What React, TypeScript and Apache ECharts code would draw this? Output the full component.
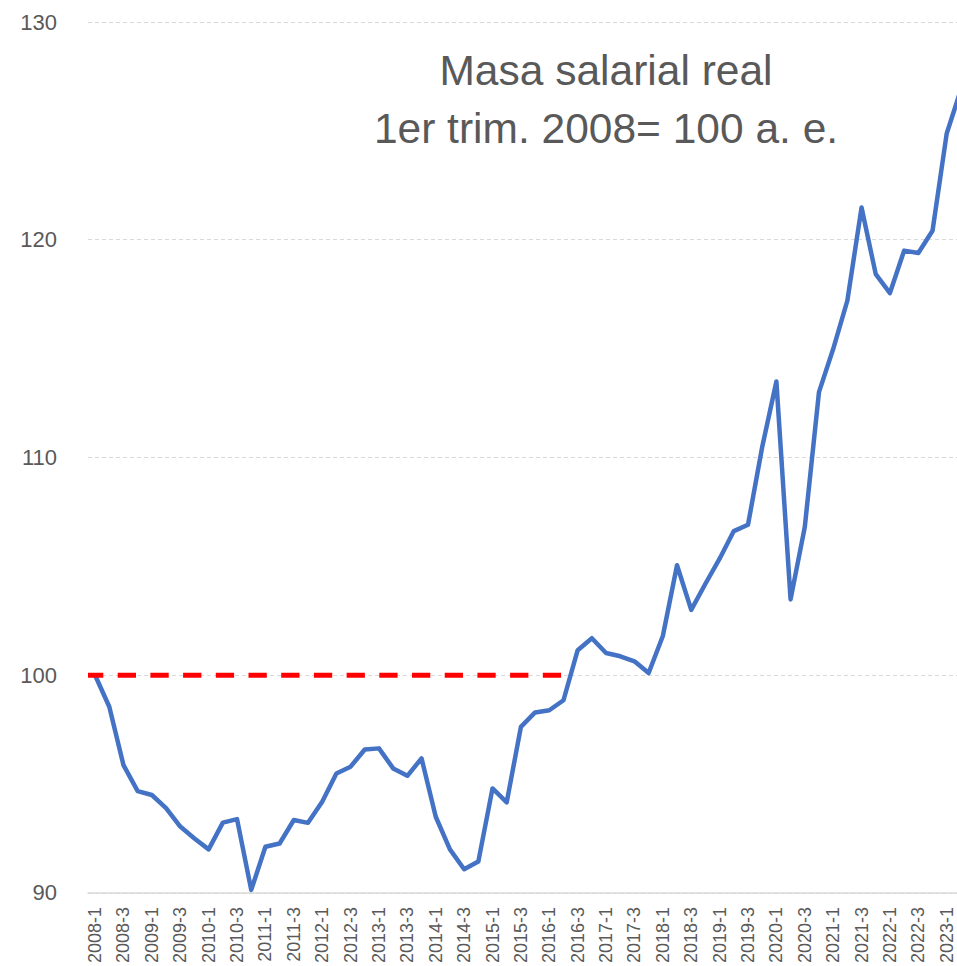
import React, { useEffect, useRef } from "react";
import * as echarts from "echarts";

const years = [2008, 2009, 2010, 2011, 2012, 2013, 2014, 2015, 2016, 2017, 2018, 2019, 2020, 2021, 2022, 2023];
const quartersLastYear = 2;
const categories: string[] = [];
years.forEach((y) => {
  const n = y === 2023 ? quartersLastYear : 4;
  for (let q = 1; q <= n; q++) categories.push(`${y}-${q}`);
});

const masaSalarial = [
  100.0, 98.55, 95.87, 94.68,
  94.5, 93.9, 93.05, 92.5,
  92.0, 93.23, 93.39, 90.14,
  92.12, 92.27, 93.35, 93.22,
  94.19, 95.49, 95.8, 96.59,
  96.64, 95.72, 95.38, 96.18,
  93.5, 92.0, 91.09, 91.44,
  94.8, 94.16, 97.63, 98.29,
  98.39, 98.85, 101.15, 101.7,
  101.02, 100.87, 100.64, 100.1,
  101.8, 105.05, 103.0, 104.2,
  105.35, 106.62, 106.91, 110.48,
  113.49, 103.48, 106.8, 113.0,
  114.98, 117.2, 121.48, 118.42,
  117.55, 119.5, 119.39, 120.41,
  124.88, 126.9,
];

const baseLevel = 100;
const baseEndIndex = 33;
const referenceLine = categories.map((_, i) => (i <= baseEndIndex ? baseLevel : null));

const titleLines = ["Masa salarial real", "1er trim. 2008= 100 a. e."];
const yTicks = { min: 90, max: 130, interval: 10 };

const FONT = "'Liberation Sans', Arial, sans-serif";

export default function App() {
  const ref = useRef<HTMLDivElement>(null);
  useEffect(() => {
    document.body.style.margin = "0";
    const chart = echarts.init(ref.current!, null, { renderer: "svg" });
    chart.setOption({
      animation: false,
      backgroundColor: "#ffffff",
      grid: { left: 88, right: 0, top: 22, bottom: 73, containLabel: false },
      graphic: [
        {
          type: "text",
          x: 606,
          y: 70,
          style: {
            text: titleLines[0],
            font: `42.5px ${FONT}`,
            fill: "#595959",
            textAlign: "center",
            textVerticalAlign: "middle",
          },
        },
        {
          type: "text",
          x: 606,
          y: 128,
          style: {
            text: titleLines[1],
            font: `42.5px ${FONT}`,
            fill: "#595959",
            textAlign: "center",
            textVerticalAlign: "middle",
          },
        },
      ],
      xAxis: [
        {
          type: "category",
          data: categories,
          boundaryGap: true,
          axisLine: { show: true, lineStyle: { color: "#D9D9D9", width: 1.5 } },
          axisTick: { show: false },
          axisLabel: {
            interval: 1,
            rotate: 90,
            color: "#595959",
            fontSize: 18,
            fontFamily: FONT,
            margin: 14,
          },
          splitLine: { show: false },
        },
        {
          type: "category",
          data: categories,
          boundaryGap: false,
          position: "bottom",
          show: false,
        },
      ],
      yAxis: {
        type: "value",
        min: yTicks.min,
        max: yTicks.max,
        interval: yTicks.interval,
        axisLine: { show: false },
        axisTick: { show: false },
        axisLabel: {
          color: "#595959",
          fontSize: 22,
          fontFamily: FONT,
          margin: 31,
        },
        splitLine: { show: true, lineStyle: { color: "#D9D9D9", type: [4, 3], width: 1 } },
      },
      series: [
        {
          name: "Masa salarial real",
          type: "line",
          xAxisIndex: 0,
          data: masaSalarial,
          symbol: "none",
          lineStyle: { color: "#4472C4", width: 4.5, join: "round" },
          z: 2,
        },
        {
          name: "Base 100",
          type: "line",
          xAxisIndex: 1,
          data: referenceLine,
          symbol: "none",
          lineStyle: { color: "#FF0000", width: 5, type: [18.3, 14.4], dashOffset: 3 },
          z: 3,
        },
      ],
    });
    return () => chart.dispose();
  }, []);
  return (
    <div style={{ position: "fixed", left: 0, top: 0, width: 957, height: 966, overflow: "hidden", background: "#fff" }}>
      <div ref={ref} style={{ width: 968, height: 966 }} />
    </div>
  );
}
